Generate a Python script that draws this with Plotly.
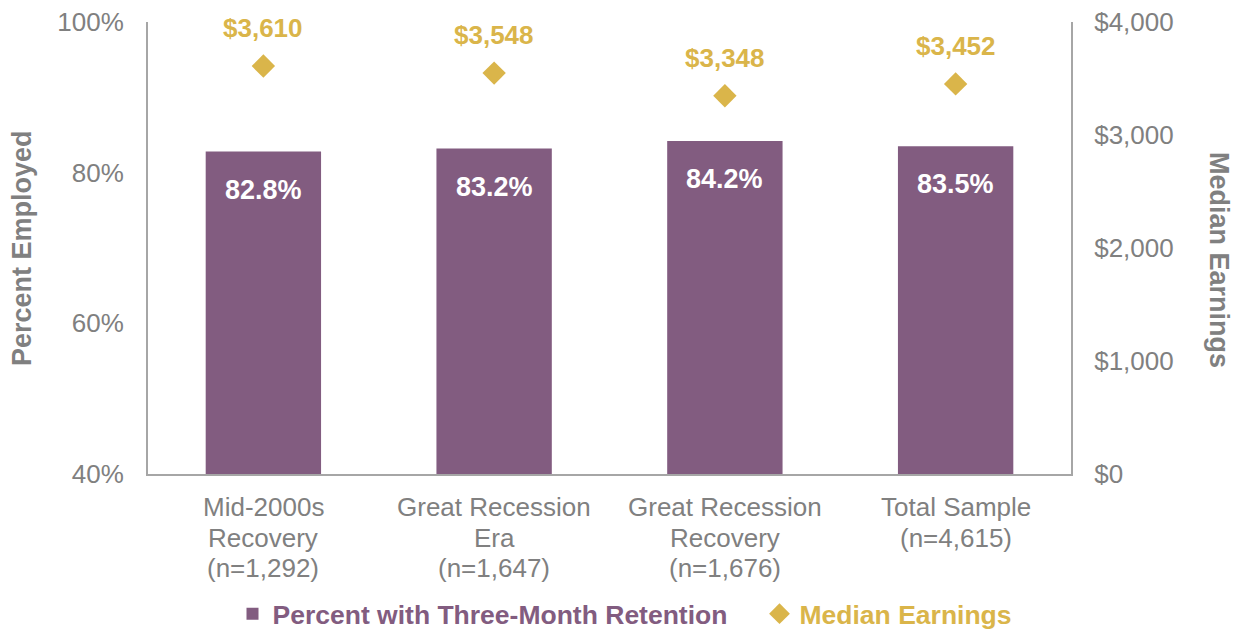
import plotly.graph_objects as go

category_lines = [["Mid-2000s", "Recovery", "(n=1,292)"],
                  ["Great Recession", "Era", "(n=1,647)"],
                  ["Great Recession", "Recovery", "(n=1,676)"],
                  ["Total Sample", "(n=4,615)"]]
categories = [" ".join(l) for l in category_lines]
pct_employed = [82.8, 83.2, 84.2, 83.5]
median_earnings = [3610, 3548, 3348, 3452]
left_ticks = [40, 60, 80, 100]
right_ticks = [0, 1000, 2000, 3000, 4000]

PURPLE = "#825C80"
GOLD = "#DAB54A"
GRAY = "#808080"
LINE = "#A6A6A6"
FONT = "Liberation Sans, Arial, sans-serif"

fig = go.Figure()
fig.add_trace(go.Bar(
    x=categories, y=pct_employed, base=0, width=0.5,
    marker=dict(color=PURPLE, line=dict(width=0)),
    name=f"<b><span style='color:{PURPLE}'>Percent with Three-Month Retention</span></b>",
    legendwidth=482,
    hoverinfo="skip",
))
fig.add_trace(go.Scatter(
    x=categories, y=median_earnings, yaxis="y2", mode="markers",
    marker=dict(symbol="diamond", size=18, color=GOLD),
    name=f"<b><span style='color:{GOLD}'>Median Earnings</span></b>",
    hoverinfo="skip",
))

annotations = []
for c, v in zip(categories, pct_employed):
    annotations.append(dict(x=c, y=v, xref="x", yref="y", text=f"<b>{v:.1f}%</b>",
                            showarrow=False, yshift=-38, yanchor="middle",
                            font=dict(family=FONT, size=27, color="white")))
for c, v in zip(categories, median_earnings):
    annotations.append(dict(x=c, y=v, xref="x", yref="y2", text=f"<b>${v:,}</b>",
                            showarrow=False, yshift=38, yanchor="middle",
                            font=dict(family=FONT, size=26, color=GOLD)))
for c, lines in zip(categories, category_lines):
    for i, line in enumerate(lines):
        annotations.append(dict(x=c, y=0, xref="x", yref="paper", text=line,
                                showarrow=False, yanchor="middle", yshift=-(33 + i * 30.5),
                                font=dict(family=FONT, size=26, color=GRAY)))
annotations.append(dict(x=(22 - 148) / 923, y=0.5, xref="paper", yref="paper",
                        text="<b>Percent Employed</b>",
                        showarrow=False, textangle=-90, xanchor="center", yanchor="middle",
                        font=dict(family=FONT, size=27, color=GRAY)))
annotations.append(dict(x=(1219 - 148) / 923, y=0.5 - 12 / 452, xref="paper", yref="paper",
                        text="<b>Median Earnings</b>",
                        showarrow=False, textangle=90, xanchor="center", yanchor="middle",
                        font=dict(family=FONT, size=27, color=GRAY)))

fig.update_layout(
    width=1234, height=622,
    margin=dict(l=140, r=171, t=14, b=156, autoexpand=False),
    paper_bgcolor="white", plot_bgcolor="white",
    font=dict(family=FONT, size=26, color=GRAY),
    showlegend=True,
    legend=dict(orientation="h", x=0.5, xanchor="center", xref="container",
                y=1 - 606 / 622, yanchor="middle", yref="container",
                font=dict(family=FONT, size=26.5, color=PURPLE), traceorder="normal",
                itemwidth=30),
    xaxis=dict(showline=True, linecolor=LINE, linewidth=2, ticks="", showgrid=False,
               showticklabels=False, automargin=False),
    yaxis=dict(range=[40, 100], tickvals=left_ticks, ticktext=[f"{t}%" for t in left_ticks],
               showline=True, linecolor=LINE, linewidth=2, showgrid=False, zeroline=False,
               automargin=False, ticklabelstandoff=17, ticklabeloverflow="allow",
               tickfont=dict(family=FONT, size=26, color=GRAY)),
    yaxis2=dict(range=[0, 4000], tickvals=right_ticks, ticktext=[f"${t:,}" for t in right_ticks],
                overlaying="y", side="right", showline=True, linecolor=LINE, linewidth=2,
                showgrid=False, zeroline=False, automargin=False, ticklabelstandoff=16,
                ticklabeloverflow="allow",
                tickfont=dict(family=FONT, size=26, color=GRAY)),
    annotations=annotations,
)
fig.write_html("out.html")
